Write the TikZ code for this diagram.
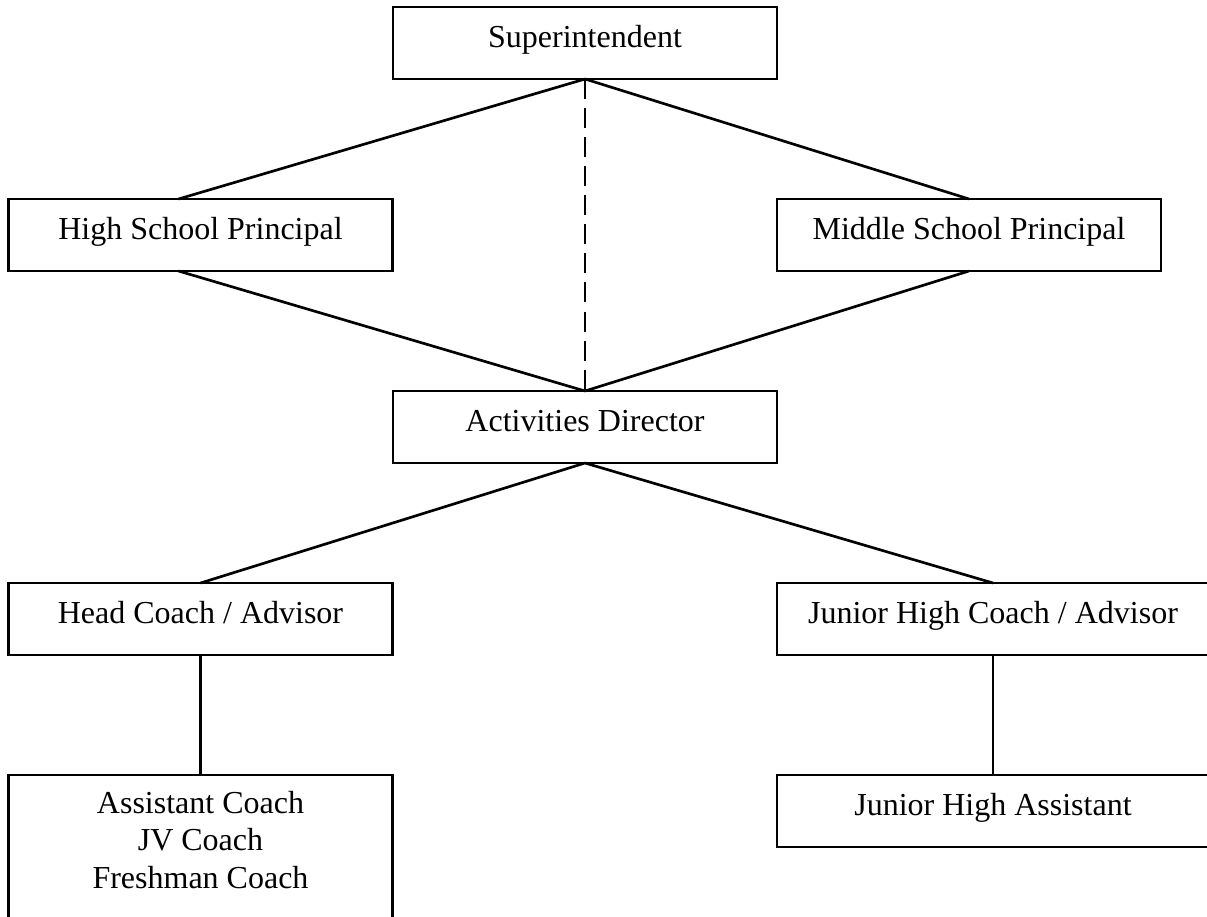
\documentclass[tikz,border=0pt]{standalone}
\usepackage{fontspec}
\setmainfont{Liberation Serif}
\usepackage{tikz}

\begin{document}
\begin{tikzpicture}[x=0.375pt, y=-0.375pt, line width=1pt,
    post/.style={draw, rectangle, anchor=north, inner sep=0pt, outer sep=0pt,
      minimum width=144pt, text height=15pt, text depth=12pt,
      font=\fontsize{12}{14}\selectfont},
    widepost/.style={post, minimum width=162pt},
    link/.style={line width=1pt}]
    \useasboundingbox (0,0) rectangle (1207,916);
    \clip (0,0) rectangle (1207,916);

    \node[post] (sup) at (585, 7) {Superintendent};
    \node[post] (hsp) at (200.5, 199) {High School Principal};
    \node[post] (msp) at (969, 199) {Middle School Principal};
    \node[post] (ad) at (585, 391) {Activities Director};
    \node[post] (hc) at (200.5, 583) {Head Coach / Advisor};
    \node[widepost] (jhc) at (993, 583) {Junior High Coach / Advisor};
    % three titles in one box, cut off by the page
    \node[post, align=center, text height=42.4pt, text depth=40pt] (ac) at (200.5, 775)
      {Assistant Coach\\JV Coach\\Freshman Coach};
    \node[widepost] (jha) at (993, 775) {Junior High Assistant};

    \draw[link] (sup.south) -- ([xshift=-8.25pt]hsp.north);
    \draw[link] (sup.south) -- (msp.north);
    \draw[link, dash pattern=on 7.5pt off 3.4pt] (sup.south) -- (ad.north);
    \draw[link] ([xshift=-8.25pt]hsp.south) -- (ad.north);
    \draw[link] (msp.south) -- (ad.north);

    \draw[link] (ad.south) -- (hc.north);
    \draw[link] (ad.south) -- (jhc.north);
    \draw[link] (hc.south) -- (ac.north);
    \draw[link] (jhc.south) -- (jha.north);
\end{tikzpicture}
\end{document}
